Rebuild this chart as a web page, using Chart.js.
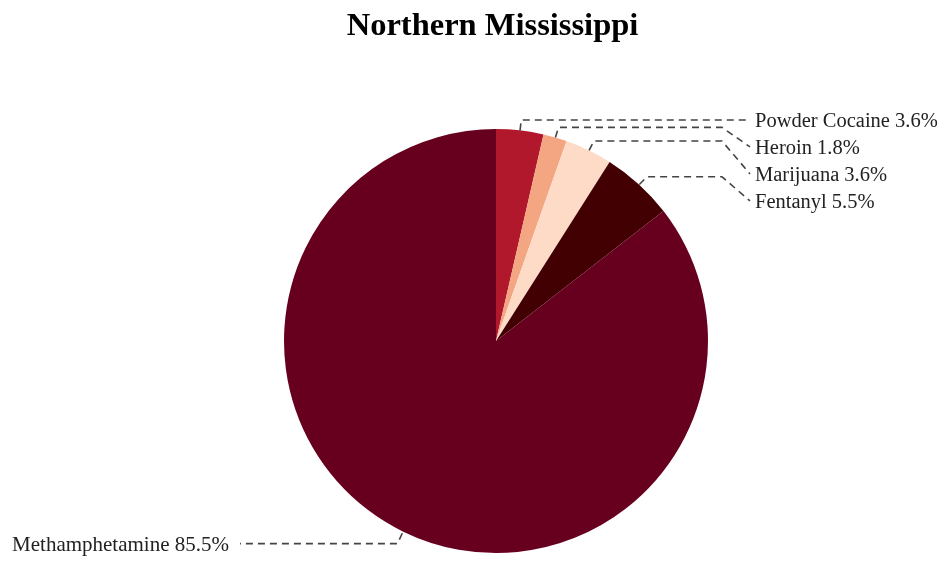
<!DOCTYPE html>
<html>
<head>
<meta charset="utf-8">
<script src="https://cdn.jsdelivr.net/npm/chart.js@4"></script>
<style>
html,body{margin:0;padding:0;background:#fff;}
#wrap{width:941px;height:561px;position:relative;}
</style>
</head>
<body>
<div id="wrap"><canvas id="c" width="941" height="561"></canvas></div>
<script>
const chartTitle = "Northern Mississippi";
const categories = ["Powder Cocaine", "Heroin", "Marijuana", "Fentanyl", "Methamphetamine"];
const percentages = [3.6, 1.8, 3.6, 5.5, 85.5];
const sliceColors = ["#b2182b", "#f4a582", "#fddbc7", "#420003", "#67001f"];

const FONT = '"Liberation Serif", "Times New Roman", serif';

const labelPlugin = {
  id: 'leaderLabels',
  afterDraw(chart) {
    const ctx = chart.ctx;
    const meta = chart.getDatasetMeta(0);
    // title
    ctx.save();
    ctx.fillStyle = '#000';
    ctx.font = 'bold 32.5px ' + FONT;
    ctx.textAlign = 'center';
    ctx.textBaseline = 'alphabetic';
    ctx.fillText(chartTitle, 492.5, 35);
    ctx.restore();

    const items = meta.data.map((arc, i) => {
      const p = arc.getProps(['x','y','startAngle','endAngle','outerRadius'], true);
      const mid = (p.startAngle + p.endAngle) / 2;
      const r0 = p.outerRadius + 1, r1 = p.outerRadius + 12;
      return {
        i, cx: p.x, cy: p.y, mid,
        sx: p.x + Math.cos(mid) * r0, sy: p.y + Math.sin(mid) * r0 + 1,
        ex: p.x + Math.cos(mid) * r1, ey: p.y + Math.sin(mid) * r1 + 1.5,
        right: Math.cos(mid) >= 0,
        text: categories[i] + ' ' + percentages[i].toFixed(1) + '%'
      };
    });

    const layout = (arr) => {
      arr.sort((a, b) => a.ey - b.ey);
      let prev = -Infinity;
      arr.forEach(it => {
        it.ly = Math.max(it.ey + 2, prev + 27);
        prev = it.ly;
      });
    };
    const rights = items.filter(d => d.right);
    const lefts = items.filter(d => !d.right);
    layout(rights); layout(lefts);

    ctx.save();
    ctx.strokeStyle = '#444';
    ctx.lineWidth = 1.6;
    ctx.setLineDash([7, 5]);
    ctx.fillStyle = '#222';
    ctx.textBaseline = 'middle';
    items.forEach(it => {
      ctx.beginPath();
      ctx.moveTo(it.sx, it.sy);
      ctx.lineTo(it.ex, it.ey);
      if (it.right) {
        const hx = it.cx + 226, endX = it.cx + 254;
        ctx.lineTo(hx, it.ey);
        ctx.lineTo(endX, it.ly - 2);
        ctx.stroke();
        ctx.font = '20.5px ' + FONT;
        ctx.textAlign = 'left';
        ctx.fillText(it.text, it.cx + 259, it.ly);
      } else {
        const hx = it.cx - 236, endX = it.cx - 256;
        ctx.lineTo(hx, it.ey);
        ctx.lineTo(endX, it.ly - 2);
        ctx.stroke();
        ctx.font = '21px ' + FONT;
        ctx.textAlign = 'right';
        ctx.fillText(it.text, it.cx - 267, it.ly);
      }
    });
    ctx.restore();
  }
};

new Chart(document.getElementById('c'), {
  type: 'pie',
  data: {
    labels: categories,
    datasets: [{
      data: percentages,
      backgroundColor: sliceColors,
      borderWidth: 0,
      hoverOffset: 0
    }]
  },
  options: {
    responsive: false,
    animation: false,
    devicePixelRatio: 1,
    layout: { padding: { left: 284, right: 233, top: 129, bottom: 8 } },
    plugins: {
      legend: { display: false },
      title: { display: false },
      tooltip: { enabled: false }
    }
  },
  plugins: [labelPlugin]
});
</script>
</body>
</html>
